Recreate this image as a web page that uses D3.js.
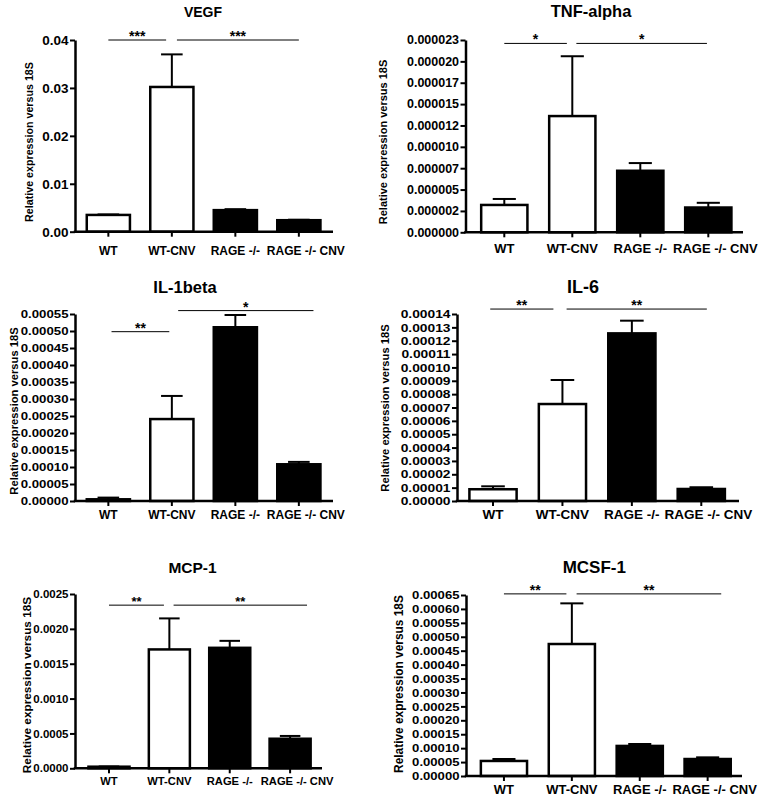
<!DOCTYPE html>
<html>
<head>
<meta charset="utf-8">
<script src="https://cdn.jsdelivr.net/npm/d3@7/dist/d3.min.js"></script>
<style>
  html, body { margin: 0; padding: 0; background: #fff; }
  svg text { font-family: "Liberation Sans", Arial, Helvetica, sans-serif; font-weight: bold; fill: #000; }
</style>
</head>
<body>
<svg id="chart" width="762" height="797"></svg>
<script>
// ---------------- DATA ----------------
const categories = ["WT", "WT-CNV", "RAGE -/-", "RAGE -/- CNV"];
const fillColors = ["#ffffff", "#ffffff", "#000000", "#000000"];
const yAxisTitle = "Relative expression versus 18S";

const vegfMean = [0.0035, 0.0302, 0.0045, 0.0024];
const vegfSem  = [0.0001, 0.0068, 0.0002, 0.0001];
const vegfTicks = [0, 0.01, 0.02, 0.03, 0.04];
const vegfTickLabels = ["0.00", "0.01", "0.02", "0.03", "0.04"];
const vegfSig = [[0, 0.91, 0.04, "***"], [1.08, 3.0, 0.04, "***"]];

const tnfMean = [0.0000032, 0.0000136, 0.0000072, 0.0000029];
const tnfSem  = [0.0000007, 0.0000070, 0.0000009, 0.00000055];
const tnfTicks = [0, 0.0000025, 0.000005, 0.0000075, 0.00001, 0.0000125, 0.000015, 0.0000175, 0.00002, 0.0000225];
const tnfTickLabels = ["0.000000", "0.000002", "0.000005", "0.000007", "0.000010", "0.000012", "0.000015", "0.000017", "0.000020", "0.000023"];
const tnfSig = [[0, 0.92, 0.0000221, "*"], [1.06, 2.98, 0.0000221, "*"]];

const il1bMean = [0.000005, 0.000241, 0.000511, 0.000108];
const il1bSem  = [0.000005, 0.000068, 0.000036, 0.000007];
const il1bTicks = [0, 0.00005, 0.0001, 0.00015, 0.0002, 0.00025, 0.0003, 0.00035, 0.0004, 0.00045, 0.0005, 0.00055];
const il1bTickLabels = ["0.00000", "0.00005", "0.00010", "0.00015", "0.00020", "0.00025", "0.00030", "0.00035", "0.00040", "0.00045", "0.00050", "0.00055"];
const il1bSig = [[0.05, 0.96, 0.000498, "**"], [1.1, 3.23, 0.00056, "*"]];

const il6Mean = [0.0000088, 0.0000726, 0.0001255, 0.0000090];
const il6Sem  = [0.0000022, 0.0000180, 0.0000095, 0.0000013];
const il6Ticks = [0, 0.00001, 0.00002, 0.00003, 0.00004, 0.00005, 0.00006, 0.00007, 0.00008, 0.00009, 0.0001, 0.00011, 0.00012, 0.00013, 0.00014];
const il6TickLabels = ["0.00000", "0.00001", "0.00002", "0.00003", "0.00004", "0.00005", "0.00006", "0.00007", "0.00008", "0.00009", "0.00010", "0.00011", "0.00012", "0.00013", "0.00014"];
const il6Sig = [[-0.04, 0.87, 0.0001437, "**"], [1.06, 3.08, 0.0001437, "**"]];

const mcp1Mean = [0.000023, 0.001705, 0.001728, 0.000424];
const mcp1Sem  = [0.000003, 0.000445, 0.000100, 0.000040];
const mcp1Ticks = [0, 0.0005, 0.001, 0.0015, 0.002, 0.0025];
const mcp1TickLabels = ["0.0000", "0.0005", "0.0010", "0.0015", "0.0020", "0.0025"];
const mcp1Sig = [[0, 0.91, 0.00234, "**"], [1.07, 3.28, 0.00234, "**"]];

const mcsfMean = [0.000054, 0.000474, 0.000108, 0.000061];
const mcsfSem  = [0.000007, 0.000146, 0.000007, 0.000006];
const mcsfTicks = [0, 0.00005, 0.0001, 0.00015, 0.0002, 0.00025, 0.0003, 0.00035, 0.0004, 0.00045, 0.0005, 0.00055, 0.0006, 0.00065];
const mcsfTickLabels = ["0.00000", "0.00005", "0.00010", "0.00015", "0.00020", "0.00025", "0.00030", "0.00035", "0.00040", "0.00045", "0.00050", "0.00055", "0.00060", "0.00065"];
const mcsfSig = [[0, 0.92, 0.000654, "**"], [1.07, 3.2, 0.000654, "**"]];

// ---------------- LAYOUT ----------------
const panels = [
  { title: "VEGF", mean: vegfMean, sem: vegfSem, ticks: vegfTicks, labels: vegfTickLabels, sig: vegfSig,
    axisX: 75, y0: 231.7, yTop: 40, xr: [76.6, 330.6], xEnd: 333,
    titleX: 203, titleY: 16.7, titleSize: 14, tickSize: 13.5, tickStretch: 1.0, catSize: 12, catY: 255, lastShift: 7,
    yLabX: 29, yLabY: 142, yLabSize: 10.7, starSize: 14 },
  { title: "TNF-alpha", mean: tnfMean, sem: tnfSem, ticks: tnfTicks, labels: tnfTickLabels, sig: tnfSig,
    axisX: 465.5, y0: 232.3, yTop: 40, xr: [470.3, 742.3], xEnd: 743,
    titleX: 591, titleY: 16.7, titleSize: 16.5, tickSize: 12, tickStretch: 1.04, catSize: 13, catY: 253, lastShift: 7,
    yLabX: 383, yLabY: 142, yLabSize: 11, starSize: 14 },
  { title: "IL-1beta", mean: il1bMean, sem: il1bSem, ticks: il1bTicks, labels: il1bTickLabels, sig: il1bSig,
    axisX: 75, y0: 501, yTop: 314, xr: [76.6, 330.6], xEnd: 333,
    titleX: 185, titleY: 293, titleSize: 16.5, tickSize: 11.6, tickStretch: 1.14, catSize: 12, catY: 519, lastShift: 7,
    yLabX: 14, yLabY: 411, yLabSize: 11.2, starSize: 14 },
  { title: "IL-6", mean: il6Mean, sem: il6Sem, ticks: il6Ticks, labels: il6TickLabels, sig: il6Sig,
    axisX: 457, y0: 501, yTop: 314, xr: [458.3, 736], xEnd: 739,
    titleX: 583, titleY: 293, titleSize: 18, tickSize: 11.5, tickStretch: 1.2, catSize: 13.5, catY: 519, lastShift: 7,
    yLabX: 385, yLabY: 408, yLabSize: 11.2, starSize: 14 },
  { title: "MCP-1", mean: mcp1Mean, sem: mcp1Sem, ticks: mcp1Ticks, labels: mcp1TickLabels, sig: mcp1Sig,
    axisX: 75, y0: 768.3, yTop: 594, xr: [78.8, 320.3], xEnd: 322,
    titleX: 192.5, titleY: 572.7, titleSize: 15.5, tickSize: 11.5, tickStretch: 1.0, catSize: 11.2, catY: 785, lastShift: 7,
    yLabX: 27, yLabY: 685, yLabSize: 11.8, starSize: 13 },
  { title: "MCSF-1", mean: mcsfMean, sem: mcsfSem, ticks: mcsfTicks, labels: mcsfTickLabels, sig: mcsfSig,
    axisX: 466, y0: 776, yTop: 595, xr: [470, 741.6], xEnd: 742,
    titleX: 594.3, titleY: 573, titleSize: 17, tickSize: 11.5, tickStretch: 1.14, catSize: 13, catY: 794, lastShift: 7,
    yLabX: 399, yLabY: 684, yLabSize: 11.9, starSize: 14 }
];

const svg = d3.select("#chart");
const FONT = '"Liberation Sans", Arial, sans-serif';

panels.forEach(p => {
  const g = svg.append("g");
  const maxTick = p.ticks[p.ticks.length - 1];
  const y = d3.scaleLinear().domain([0, maxTick]).range([p.y0, p.yTop]);
  const x = d3.scaleBand().domain(categories).range(p.xr).paddingInner(0.32).paddingOuter(0.16);
  const bw = x.bandwidth();
  const step = x.step();
  const cx0 = x(categories[0]) + bw / 2;

  // title
  g.append("text").attr("x", p.titleX).attr("y", p.titleY)
    .attr("text-anchor", "middle").style("font-size", p.titleSize + "px").text(p.title);

  // y axis label
  g.append("text")
    .attr("transform", `translate(${p.yLabX},${p.yLabY}) rotate(-90)`)
    .attr("text-anchor", "middle").attr("dy", "0.35em")
    .style("font-size", p.yLabSize + "px").text(yAxisTitle);

  // bars
  g.selectAll("rect.bar").data(categories).enter().append("rect")
    .attr("class", "bar")
    .attr("x", d => x(d))
    .attr("width", bw)
    .attr("y", (d, i) => y(p.mean[i]))
    .attr("height", (d, i) => Math.max(0, p.y0 - y(p.mean[i])))
    .attr("fill", (d, i) => fillColors[i])
    .attr("stroke", "#000").attr("stroke-width", 2.5);

  // error bars (upper only)
  categories.forEach((c, i) => {
    const cx = x(c) + bw / 2;
    const top = y(p.mean[i] + p.sem[i]);
    const base = y(p.mean[i]);
    g.append("line").attr("x1", cx).attr("x2", cx).attr("y1", base).attr("y2", top)
      .attr("stroke", "#000").attr("stroke-width", 2);
    g.append("line").attr("x1", cx - bw * 0.25).attr("x2", cx + bw * 0.25).attr("y1", top).attr("y2", top)
      .attr("stroke", "#000").attr("stroke-width", 2);
  });

  // y axis
  const tickLen = 5, tickPad = 1.5;
  const yAxis = d3.axisLeft(y).tickValues(p.ticks)
    .tickFormat((d, i) => p.labels[i]).tickSize(tickLen).tickPadding(tickPad).tickSizeOuter(0);
  const ya = g.append("g").attr("transform", `translate(${p.axisX},0)`).call(yAxis);
  ya.select(".domain").attr("stroke", "#000").attr("stroke-width", 2.5);
  ya.selectAll(".tick line").attr("stroke", "#000").attr("stroke-width", 2);
  ya.selectAll(".tick text")
    .attr("x", -(tickLen + tickPad) / p.tickStretch)
    .attr("transform", `scale(${p.tickStretch},1)`)
    .style("font-size", p.tickSize + "px")
    .style("font-family", FONT).style("font-weight", "bold");

  // x axis
  const xAxis = d3.axisBottom(x).tickSize(5).tickSizeOuter(0).tickPadding(3);
  const xa = g.append("g").attr("transform", `translate(0,${p.y0})`).call(xAxis);
  xa.select(".domain").remove();
  xa.append("line").attr("x1", p.axisX - 1.25).attr("x2", p.xEnd).attr("y1", 0).attr("y2", 0)
    .attr("stroke", "#000").attr("stroke-width", 2.5);
  xa.selectAll(".tick line").attr("stroke", "#000").attr("stroke-width", 2);
  xa.selectAll(".tick text").attr("y", null).attr("dy", null)
    .attr("transform", (d, i) => `translate(${i === categories.length - 1 ? p.lastShift : 0},${p.catY - p.y0})`)
    .style("font-size", p.catSize + "px")
    .style("font-family", FONT).style("font-weight", "bold");

  // significance brackets
  p.sig.forEach(s => {
    const x1 = cx0 + s[0] * step, x2 = cx0 + s[1] * step, yy = y(s[2]);
    g.append("line").attr("x1", x1).attr("x2", x2).attr("y1", yy).attr("y2", yy)
      .attr("stroke", "#000").attr("stroke-width", 1);
    g.append("text").attr("x", (x1 + x2) / 2).attr("y", yy + 1)
      .attr("text-anchor", "middle").style("font-size", p.starSize + "px").text(s[3]);
  });
});
</script>
</body>
</html>
